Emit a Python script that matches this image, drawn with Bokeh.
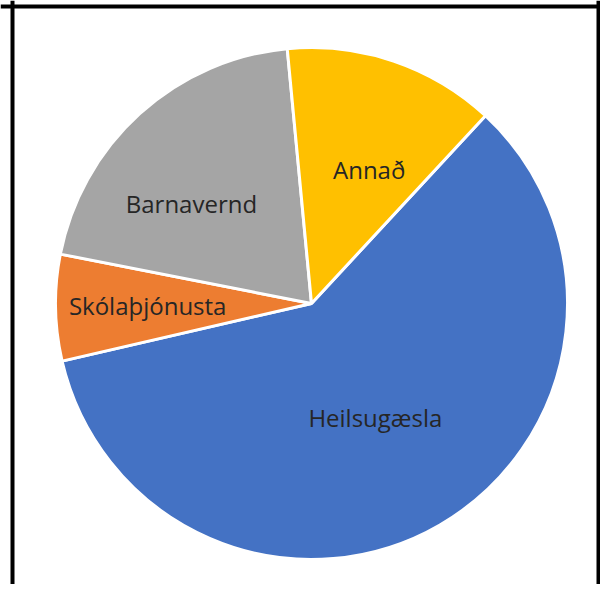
import math
from bokeh.plotting import figure
from bokeh.models import Range1d, ColumnDataSource, Span
from bokeh.core.properties import value
from bokeh.embed import file_html
from bokeh.resources import INLINE

# Data (percent shares)
categories = ["Heilsugæsla", "Skólaþjónusta", "Barnavernd", "Annað"]
shares = [59.5, 6.7, 20.4, 13.4]
colors = ["#4472C4", "#ED7D31", "#A5A5A5", "#FFC000"]

# Layout (styling, not data)
first_slice_angle = 42.8          # degrees clockwise from 12 o'clock
cx, cy, radius = 311, 281, 256
label_radius_frac = [0.51, 0.64, 0.61, 0.57]
label_angle_nudge = [0.8, 0.3, -8.1, 4.6]

total = sum(shares)
starts, ends, lx, ly = [], [], [], []
acc = first_slice_angle
for s, fr, nud in zip(shares, label_radius_frac, label_angle_nudge):
    sweep = 360.0 * s / total
    a0, a1 = acc, acc + sweep
    starts.append(math.radians(90 - a0))
    ends.append(math.radians(90 - a1))
    mid = math.radians((a0 + a1) / 2 + nud)
    lx.append(cx + fr * radius * math.sin(mid))
    ly.append(cy + fr * radius * math.cos(mid))
    acc = a1

src = ColumnDataSource(dict(cat=categories, start=starts, end=ends, color=colors,
                            lx=lx, ly=ly))

p = figure(width=600, height=584, output_backend="svg", toolbar_location=None,
           x_range=Range1d(0, 600), y_range=Range1d(0, 584), min_border=0)
p.axis.visible = False
p.grid.visible = False
p.outline_line_color = None
p.background_fill_color = "white"
p.border_fill_color = "white"

p.wedge(x=cx, y=cy, radius=radius, start_angle="start", end_angle="end",
        direction="clock", fill_color="color", line_color="white", line_width=3,
        source=src)

p.text(x="lx", y="ly", text="cat", source=src, text_align="center",
       text_baseline="middle", text_font=value("Open Sans"),
       text_font_size="24px", text_color="#262626")

# frame border (left, top, right)
for loc in (12, 598):
    p.add_layout(Span(location=loc, dimension="height", line_color="black", line_width=4))
p.add_layout(Span(location=578, dimension="width", line_color="black", line_width=4))

open("out.html", "w").write(file_html(p, INLINE))
